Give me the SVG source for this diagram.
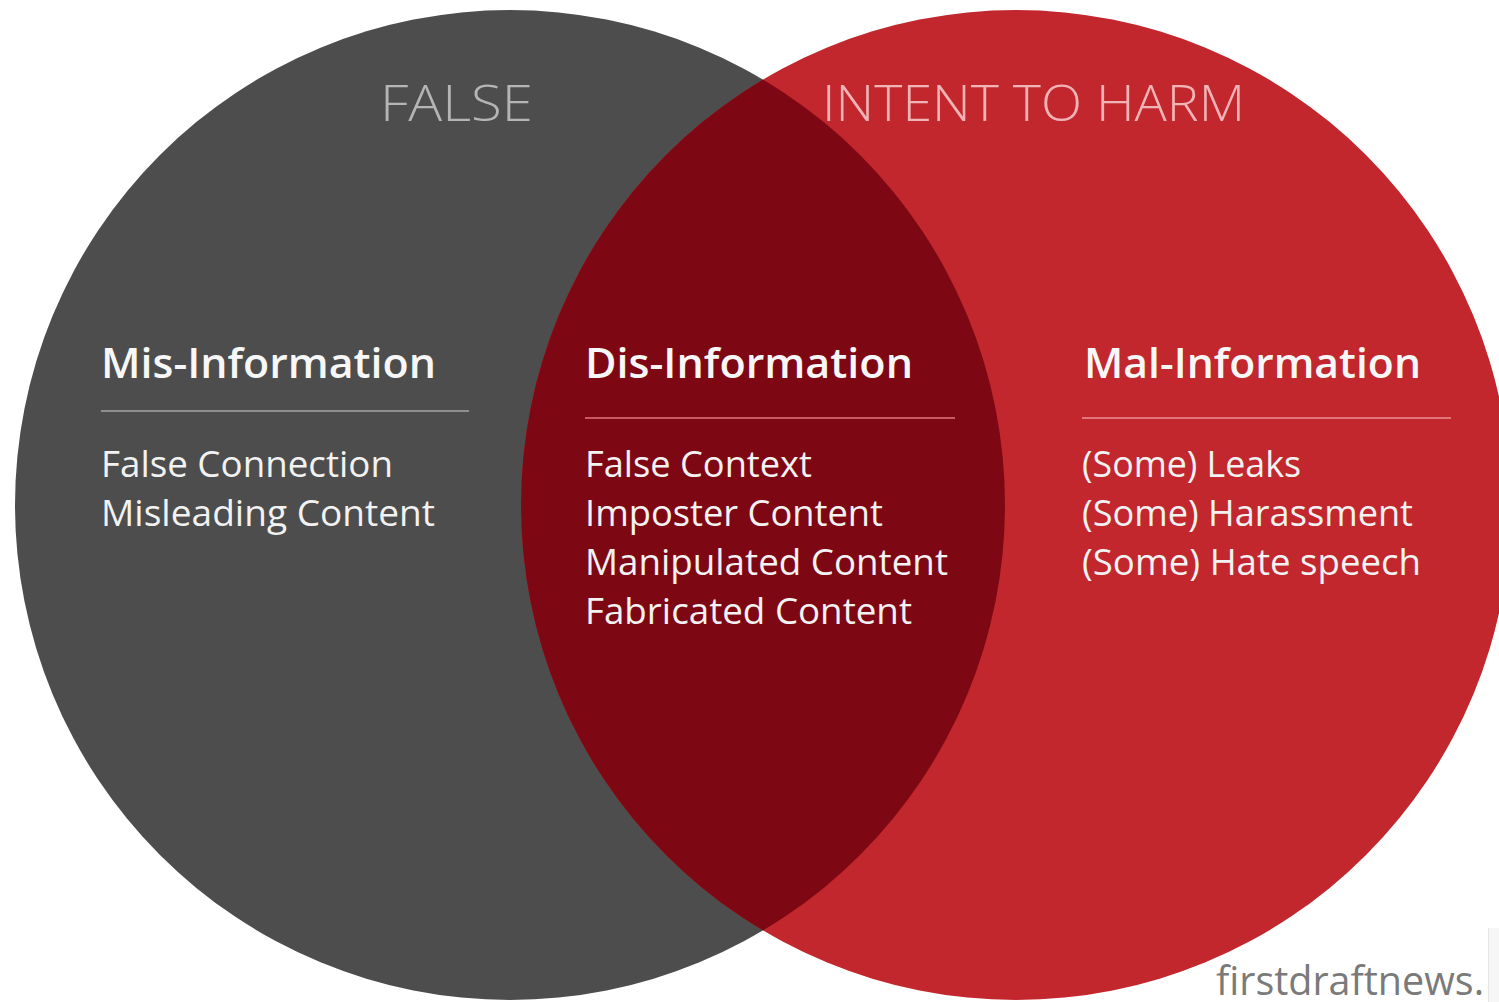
<svg xmlns="http://www.w3.org/2000/svg" width="1499" height="1002" viewBox="0 0 1499 1002">
  <style>
    .title { font-family: "Open Sans", "Liberation Sans", sans-serif; font-weight: 300; font-size: 50px; }
    .head { font-family: "Open Sans", "Liberation Sans", sans-serif; font-weight: 600; font-size: 42px; fill: #f7f7f7; }
    .body { font-family: "Open Sans", "Liberation Sans", sans-serif; font-weight: 400; font-size: 36px; fill: #f2f2f2; }
    .credit { font-family: "Open Sans", "Liberation Sans", sans-serif; font-weight: 400; font-size: 40px; fill: #7a7a7a; }
    .rule { stroke-width: 2; }
  </style>
  <defs>
    <clipPath id="clipRight">
      <circle cx="1016" cy="505" r="495"/>
    </clipPath>
  </defs>
  <rect x="0" y="0" width="1499" height="1002" fill="#ffffff"/>

  <g id="circle-false">
    <circle cx="510" cy="505" r="495" fill="#4d4d4d"/>
  </g>
  <g id="circle-harm">
    <circle cx="1016" cy="505" r="495" fill="#c1272d"/>
  </g>
  <g id="overlap">
    <circle cx="510" cy="505" r="495" fill="#7e0714" clip-path="url(#clipRight)"/>
  </g>

  <g id="connectors"></g>

  <g id="label-false">
    <text class="title" x="380" y="121" fill="#b5b5b5" textLength="153" lengthAdjust="spacingAndGlyphs">FALSE</text>
  </g>
  <g id="label-harm">
    <text class="title" x="822" y="121" fill="#f0b3b6" textLength="423" lengthAdjust="spacingAndGlyphs">INTENT TO HARM</text>
  </g>

  <g id="node-mis">
    <text class="head" x="101" y="378" textLength="335" lengthAdjust="spacingAndGlyphs">Mis-Information</text>
    <line class="rule" x1="101" y1="411" x2="469" y2="411" stroke="#8e8e8e"/>
    <text class="body" x="101" y="477" textLength="292" lengthAdjust="spacingAndGlyphs">False Connection</text>
    <text class="body" x="101" y="526" textLength="334" lengthAdjust="spacingAndGlyphs">Misleading Content</text>
  </g>

  <g id="node-dis">
    <text class="head" x="585" y="378" textLength="328" lengthAdjust="spacingAndGlyphs">Dis-Information</text>
    <line class="rule" x1="585" y1="418" x2="955" y2="418" stroke="#c85a63"/>
    <text class="body" x="585" y="477" textLength="227" lengthAdjust="spacingAndGlyphs">False Context</text>
    <text class="body" x="585" y="526" textLength="298" lengthAdjust="spacingAndGlyphs">Imposter Content</text>
    <text class="body" x="585" y="575" textLength="363" lengthAdjust="spacingAndGlyphs">Manipulated Content</text>
    <text class="body" x="585" y="624" textLength="327" lengthAdjust="spacingAndGlyphs">Fabricated Content</text>
  </g>

  <g id="node-mal">
    <text class="head" x="1084" y="378" textLength="337" lengthAdjust="spacingAndGlyphs">Mal-Information</text>
    <line class="rule" x1="1082" y1="418" x2="1451" y2="418" stroke="#e27579"/>
    <text class="body" x="1082" y="477" textLength="219" lengthAdjust="spacingAndGlyphs">(Some) Leaks</text>
    <text class="body" x="1082" y="526" textLength="331" lengthAdjust="spacingAndGlyphs">(Some) Harassment</text>
    <text class="body" x="1082" y="575" textLength="339" lengthAdjust="spacingAndGlyphs">(Some) Hate speech</text>
  </g>

  <g id="credit">
    <rect x="1488" y="928" width="11" height="74" fill="#f6f6f6"/>
    <line x1="1488.5" y1="928" x2="1488.5" y2="1002" stroke="#e6e6e6" stroke-width="1"/>
    <text class="credit" x="1216" y="995" textLength="268" lengthAdjust="spacingAndGlyphs">firstdraftnews.</text>
  </g>
</svg>
